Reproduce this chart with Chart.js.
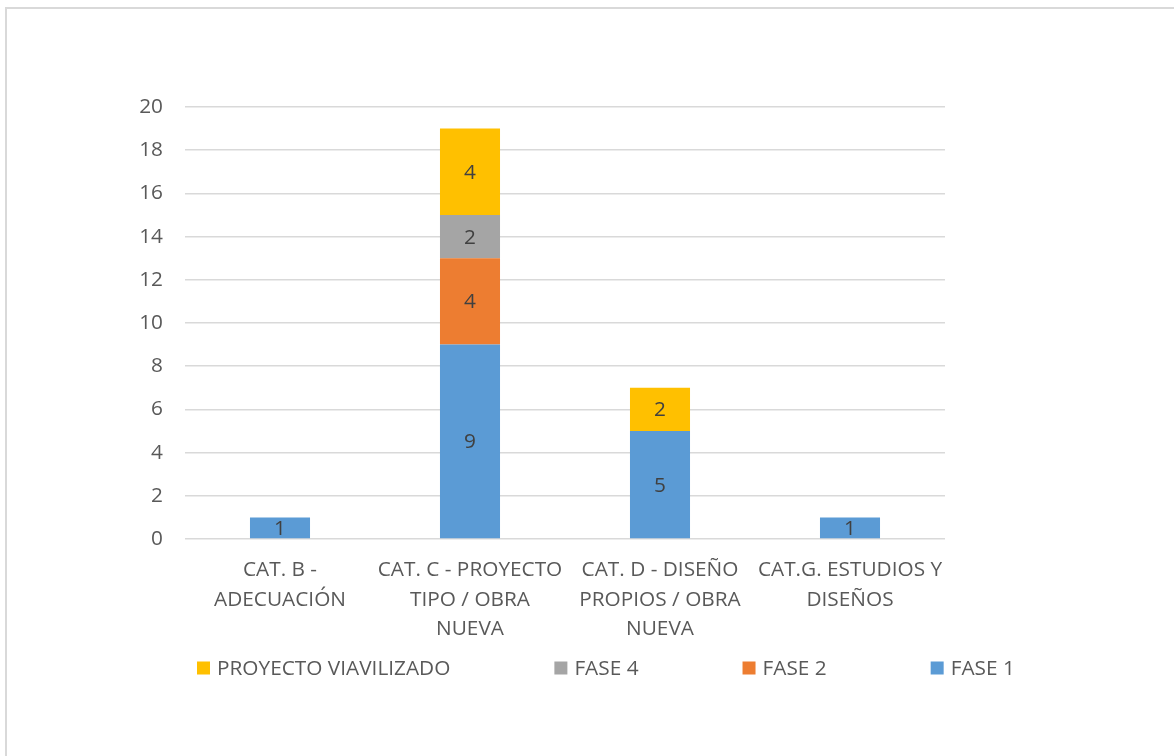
<!DOCTYPE html>
<html>
<head>
<meta charset="utf-8">
<script src="https://cdn.jsdelivr.net/npm/chart.js@4.4.1/dist/chart.umd.min.js"></script>
<style>
  html, body { margin: 0; padding: 0; background: #fff; overflow: hidden; }
  #frame { position: absolute; left: 5px; top: 7px; width: 1200px; height: 800px;
           border-top: 2px solid #D9D9D9; border-left: 2px solid #D9D9D9; }
  #wrap { position: absolute; left: 0; top: 0; width: 1174px; height: 756px; }
</style>
</head>
<body>
<div id="frame"></div>
<div id="wrap"><canvas id="c" width="1174" height="756"></canvas></div>
<script>
// categorias y series
const categorias = [
  ['CAT. B -', 'ADECUACIÓN'],
  ['CAT. C - PROYECTO', 'TIPO / OBRA', 'NUEVA'],
  ['CAT. D - DISEÑO', 'PROPIOS / OBRA', 'NUEVA'],
  ['CAT.G. ESTUDIOS Y', 'DISEÑOS']
];
const fase1 = [1, 9, 5, 1];
const fase2 = [0, 4, 0, 0];
const fase4 = [0, 2, 0, 0];
const viavilizado = [0, 4, 2, 0];
const yTicks = [0, 2, 4, 6, 8, 10, 12, 14, 16, 18, 20];

const FONT = 'Open Sans';
const FS = 20.8;
const TXT = '#595959';

// etiquetas centradas dentro de cada segmento
const valueLabels = {
  id: 'valueLabels',
  afterDatasetsDraw(chart) {
    const ctx = chart.ctx;
    ctx.save();
    ctx.font = `${FS}px "${FONT}"`;
    ctx.fillStyle = '#404040';
    ctx.textAlign = 'center';
    ctx.textBaseline = 'middle';
    chart.data.datasets.forEach((ds, di) => {
      chart.getDatasetMeta(di).data.forEach((bar, i) => {
        const v = ds.data[i];
        if (!v) return;
        ctx.fillText(String(v), bar.x, (bar.y + bar.base) / 2 + 1);
      });
    });
    ctx.restore();
  }
};

// leyenda al estilo Excel (orden invertido, separacion uniforme)
const bottomLegend = {
  id: 'bottomLegend',
  afterDraw(chart) {
    const ctx = chart.ctx;
    ctx.save();
    ctx.font = `${FS}px "${FONT}"`;
    ctx.textBaseline = 'middle';
    let x = 197;
    const y = 668;
    const items = chart.data.datasets.slice().reverse();
    items.forEach(ds => {
      ctx.fillStyle = ds.backgroundColor;
      ctx.fillRect(x, y - 6.5, 13, 13);
      ctx.fillStyle = TXT;
      ctx.fillText(ds.label, x + 20, y + 1);
      x += 20 + ctx.measureText(ds.label).width + 104;
    });
    ctx.restore();
  }
};

const mkDs = (label, data, color) => ({
  label, data, backgroundColor: color, borderWidth: 0,
  categoryPercentage: 1, barPercentage: 0.316
});

new Chart(document.getElementById('c'), {
  type: 'bar',
  data: {
    labels: categorias,
    datasets: [
      mkDs('FASE 1', fase1, '#5B9BD5'),
      mkDs('FASE 2', fase2, '#ED7D31'),
      mkDs('FASE 4', fase4, '#A5A5A5'),
      mkDs('PROYECTO VIAVILIZADO', viavilizado, '#FFC000')
    ]
  },
  options: {
    responsive: false,
    animation: false,
    layout: { padding: { left: 0, top: 107, right: 229, bottom: 0 } },
    plugins: { legend: { display: false }, tooltip: { enabled: false } },
    scales: {
      x: {
        stacked: true,
        grid: { display: false, drawTicks: false },
        border: { display: false },
        ticks: { color: TXT, font: { family: FONT, size: FS, lineHeight: 1.4 }, padding: 17, maxRotation: 0, autoSkip: false },
        afterFit(s) { s.height = 217; }
      },
      y: {
        stacked: true,
        min: 0, max: 20,
        afterBuildTicks(s) { s.ticks = yTicks.map(v => ({ value: v })); },
        grid: { color: '#D9D9D9', lineWidth: 1.5, drawTicks: false },
        border: { display: false },
        ticks: { color: TXT, font: { family: FONT, size: FS }, padding: 22 },
        afterFit(s) { s.width = 185; }
      }
    }
  },
  plugins: [valueLabels, bottomLegend]
});
</script>
</body>
</html>
